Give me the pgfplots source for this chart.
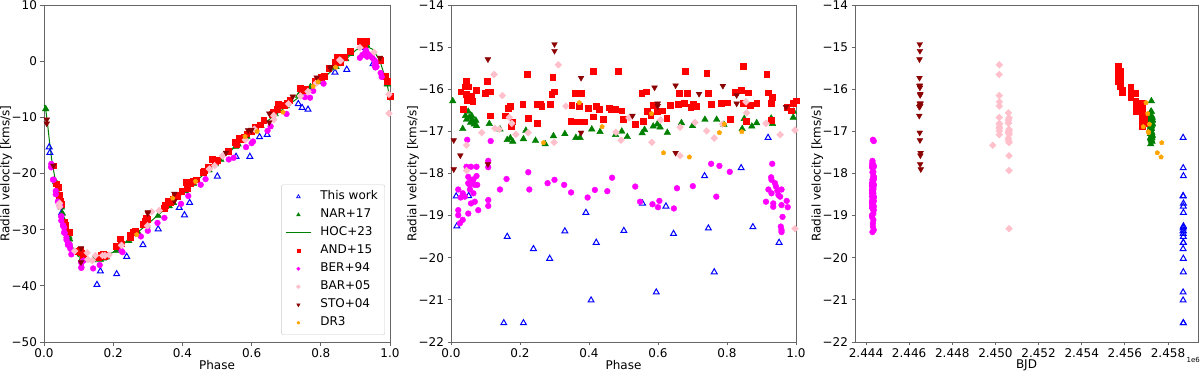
\documentclass[border=0pt]{standalone}
\usepackage{fontspec}
\setmainfont{DejaVu Sans}
\usepackage{pgfplots}
\usepackage{pgfplotstable}
\pgfplotsset{compat=1.18}
\usetikzlibrary{plotmarks}

\definecolor{cBlue}{RGB}{0,0,255}
\definecolor{cGreen}{RGB}{0,128,0}
\definecolor{cRed}{RGB}{255,0,0}
\definecolor{cMag}{RGB}{255,0,255}
\definecolor{cPink}{RGB}{255,192,203}
\definecolor{cBrown}{RGB}{139,0,0}
\definecolor{cOrange}{RGB}{255,165,0}

% This work
\pgfplotstableread{
ph res bjd rv
0.015 -18.54 2458705 -15.3
0.017 -19.25 2458715 -16.3
0.051 -18.53 2458700 -27.0
0.163 -19.50 2458710 -37.4
0.153 -21.55 2458705 -39.8
0.210 -21.55 2458715 -37.9
0.239 -19.79 2458700 -34.8
0.286 -20.02 2458710 -32.7
0.330 -19.37 2458705 -29.9
0.391 -18.93 2458715 -26.1
0.406 -21.01 2458700 -27.4
0.421 -19.64 2458710 -25.2
0.501 -19.36 2458705 -20.5
0.555 -18.71 2458715 -17.0
0.595 -20.82 2458700 -17.0
0.623 -18.78 2458710 -13.5
0.645 -19.43 2458705 -13.1
0.735 -18.06 2458715 -7.6
0.746 -19.30 2458700 -8.3
0.763 -20.34 2458710 -8.6
0.841 -17.87 2458705 -2.0
0.875 -19.27 2458715 -1.5
0.919 -17.15 2458700 2.4
0.951 -19.64 2458710 -0.5
}\tTW

% NAR+17
\pgfplotstableread{
ph res bjd rv
0.005 -16.28 2457230 -8.5
0.034 -16.94 2457200 -21.5
0.042 -16.63 2457180 -23.7
0.045 -16.72 2457250 -24.7
0.050 -16.53 2457210 -26.0
0.053 -16.67 2457270 -27.1
0.057 -16.79 2457190 -28.3
0.060 -16.63 2457240 -29.0
0.063 -16.75 2457160 -29.7
0.067 -16.83 2457220 -30.4
0.072 -16.74 2457280 -31.2
0.074 -16.87 2457200 -31.7
0.111 -16.82 2457250 -35.0
0.142 -16.95 2457170 -35.4
0.163 -17.20 2457230 -35.3
0.172 -17.16 2457190 -35.1
0.179 -17.24 2457260 -34.9
0.210 -17.18 2457210 -33.7
0.217 -16.98 2457150 -33.1
0.245 -17.22 2457240 -32.0
0.273 -17.30 2457200 -30.6
0.297 -17.11 2457270 -29.3
0.330 -17.06 2457180 -27.5
0.362 -17.15 2457220 -25.8
0.374 -17.15 2457250 -25.2
0.408 -16.95 2457170 -23.1
0.432 -17.01 2457230 -21.8
0.477 -17.08 2457260 -19.4
0.495 -17.00 2457190 -18.3
0.511 -17.13 2457210 -17.5
0.554 -17.04 2457240 -15.2
0.561 -16.96 2457160 -14.8
0.586 -16.88 2457220 -13.4
0.598 -16.83 2457280 -12.7
0.606 -16.90 2457200 -12.4
0.627 -17.03 2457250 -11.5
0.668 -16.80 2457180 -9.4
0.700 -16.87 2457230 -8.0
0.736 -16.72 2457270 -6.1
0.770 -16.72 2457190 -4.6
0.791 -16.84 2457210 -3.7
0.844 -16.94 2457240 -1.0
0.850 -16.70 2457170 -0.5
0.872 -16.88 2457220 0.4
0.886 -16.80 2457260 1.3
0.928 -16.69 2457200 2.9
0.932 -16.82 2457250 2.9
0.992 -16.67 2457180 -4.0
0.993 -16.53 2457230 -4.1
}\tNAR

% HOC+23 orbit
\pgfplotstableread{
ph rv
0.000 -7.8
0.005 -8.6
0.010 -11.0
0.016 -14.4
0.022 -17.4
0.029 -19.9
0.036 -22.3
0.044 -24.7
0.052 -27.1
0.060 -29.4
0.072 -31.5
0.084 -33.3
0.098 -34.7
0.115 -35.3
0.134 -35.5
0.153 -35.4
0.171 -34.9
0.200 -34.0
0.240 -32.0
0.300 -29.0
0.400 -23.6
0.500 -18.0
0.600 -12.8
0.700 -8.1
0.800 -3.5
0.835 -1.5
0.874 0.4
0.902 2.0
0.931 2.7
0.950 2.1
0.970 0.2
0.984 -2.5
0.994 -4.8
1.000 -7.0
}\tHOC

% AND+15
\pgfplotstableread{
ph res bjd rv
0.028 -16.06 2456270 -18.6
0.036 -16.48 2456500 -21.8
0.040 -15.94 2455800 -22.4
0.045 -15.80 2455700 -23.8
0.044 -16.12 2456270 -23.8
0.047 -16.27 2456500 -24.9
0.050 -15.94 2456270 -25.4
0.060 -16.16 2456270 -28.6
0.063 -16.29 2456500 -29.2
0.072 -16.03 2455860 -30.5
0.098 -16.10 2456270 -33.8
0.105 -15.80 2455780 -33.7
0.108 -16.06 2455880 -34.1
0.115 -16.06 2456270 -34.4
0.113 -16.63 2456800 -34.9
0.156 -16.63 2456900 -35.0
0.166 -16.45 2456500 -34.5
0.171 -16.40 2456800 -34.3
0.179 -16.77 2456900 -34.5
0.175 -16.87 2456800 -34.7
0.221 -15.64 2455700 -31.6
0.208 -16.36 2456500 -33.0
0.224 -16.69 2456900 -32.5
0.250 -16.35 2456800 -30.9
0.250 -16.81 2456900 -31.3
0.258 -16.35 2456500 -30.5
0.263 -16.41 2456800 -30.3
0.287 -16.36 2456500 -29.0
0.292 -16.11 2456270 -28.5
0.295 -15.72 2455780 -28.0
0.298 -16.06 2455860 -28.2
0.347 -16.75 2456800 -26.2
0.350 -16.37 2456500 -25.7
0.359 -16.10 2456270 -24.9
0.366 -16.77 2456900 -25.2
0.379 -16.10 2456500 -23.8
0.386 -16.77 2456800 -24.1
0.372 -16.40 2456500 -24.5
0.398 -16.45 2456800 -23.2
0.413 -16.65 2456900 -22.6
0.411 -15.58 2455700 -21.6
0.422 -16.41 2456500 -21.8
0.430 -16.47 2456800 -21.4
0.440 -16.71 2456900 -21.1
0.459 -16.44 2456500 -19.8
0.464 -16.47 2456800 -19.5
0.475 -16.47 2456500 -18.9
0.485 -15.58 2455780 -17.4
0.495 -16.51 2456800 -17.8
0.500 -16.71 2456900 -17.7
0.533 -16.83 2456800 -16.1
0.553 -16.10 2456270 -14.4
0.557 -16.75 2456900 -14.8
0.565 -16.06 2455860 -13.7
0.569 -16.53 2456500 -13.9
0.579 -16.63 2456800 -13.5
0.586 -16.37 2456500 -12.9
0.598 -16.53 2456800 -12.4
0.611 -16.51 2456500 -11.8
0.625 -16.69 2456900 -11.3
0.635 -16.37 2456800 -10.5
0.659 -16.35 2456500 -9.4
0.662 -16.10 2456270 -9.0
0.678 -15.58 2455700 -7.7
0.675 -16.33 2456800 -8.6
0.685 -16.10 2456500 -7.9
0.695 -16.43 2456800 -7.8
0.702 -16.36 2456500 -7.4
0.710 -16.40 2456800 -7.0
0.741 -15.62 2455780 -4.8
0.746 -16.10 2456270 -5.1
0.755 -16.36 2456500 -4.9
0.784 -16.33 2456800 -3.5
0.801 -16.32 2456500 -2.8
0.809 -16.71 2456900 -2.7
0.823 -16.07 2455860 -1.3
0.847 -15.45 2455700 0.65
0.842 -16.03 2456270 -0.2
0.847 -16.33 2456800 -0.2
0.855 -16.75 2456900 -0.25
0.862 -16.08 2455880 0.7
0.867 -16.37 2456500 0.7
0.886 -16.33 2456800 1.8
0.915 -15.65 2455780 3.6
0.920 -16.08 2456270 3.4
0.927 -16.33 2456500 3.3
0.927 -16.73 2456900 2.9
0.932 -16.19 2456270 3.5
0.973 -16.43 2456800 0.2
0.987 -16.51 2456500 -2.7
0.992 -16.33 2456800 -3.6
1.000 -16.27 2456500 -6.3
}\tAND

% BER+94
\pgfplotstableread{
ph res bjd rv
0.021 -18.38 2444300 -18.3
0.021 -18.87 2444340 -18.8
0.021 -18.99 2444280 -18.9
0.026 -19.18 2444320 -21.1
0.028 -18.57 2444360 -21.1
0.034 -18.47 2444300 -23.1
0.034 -19.10 2444340 -23.7
0.040 -18.55 2444280 -25.0
0.045 -17.84 2444320 -25.8
0.050 -18.08 2444360 -27.6
0.050 -18.23 2444300 -27.7
0.050 -18.95 2444340 -28.4
0.055 -18.27 2444280 -29.2
0.055 -18.38 2444320 -29.3
0.058 -17.84 2444360 -29.6
0.058 -18.71 2444300 -30.5
0.060 -18.17 2444340 -30.6
0.065 -18.47 2444280 -31.8
0.065 -18.14 2444320 -31.4
0.069 -18.27 2444360 -32.3
0.074 -17.84 2444300 -32.6
0.074 -18.06 2444340 -32.9
0.069 -18.67 2444280 -32.7
0.076 -18.27 2444320 -33.4
0.079 -18.87 2444360 -34.4
0.108 -18.63 2444300 -36.7
0.108 -18.77 2444340 -36.8
0.108 -17.85 2444280 -35.9
0.142 -18.38 2444320 -36.9
0.161 -18.13 2444360 -36.3
0.224 -17.97 2444300 -33.8
0.227 -18.38 2444340 -34.0
0.280 -18.23 2444280 -31.2
0.300 -18.15 2444320 -30.2
0.328 -18.27 2444360 -28.8
0.348 -18.45 2444300 -27.9
0.396 -18.57 2444340 -25.4
0.417 -18.39 2444280 -24.0
0.453 -18.42 2444320 -22.0
0.467 -18.10 2444360 -21.0
0.534 -18.31 2444300 -17.5
0.548 -18.67 2444340 -17.2
0.584 -18.73 2444280 -15.3
0.600 -18.80 2444320 -14.6
0.604 -18.65 2444360 -14.3
0.646 -18.83 2444300 -12.4
0.655 -18.35 2444340 -11.6
0.701 -18.30 2444280 -9.4
0.754 -17.77 2444320 -6.4
0.778 -17.82 2444360 -5.3
0.769 -18.55 2444300 -6.5
0.808 -17.96 2444340 -4.0
0.913 -18.67 2444280 0.6
0.920 -18.38 2444320 1.1
0.928 -18.09 2444360 1.5
0.929 -18.15 2444300 1.5
0.929 -18.47 2444340 1.1
0.931 -17.77 2444280 1.9
0.934 -18.71 2444320 0.9
0.934 -18.79 2444360 0.8
0.939 -18.23 2444300 1.2
0.942 -18.31 2444340 1.0
0.946 -18.41 2444280 0.8
0.949 -18.51 2444320 0.6
0.954 -18.55 2444360 0.2
0.958 -18.38 2444300 -0.1
0.958 -18.75 2444340 -0.5
0.961 -19.03 2444280 -1.0
0.956 -19.26 2444320 -0.8
0.958 -19.34 2444360 -1.1
0.958 -19.39 2444300 -1.1
0.973 -18.65 2444340 -2.1
0.976 -18.80 2444280 -2.8
0.047 -17.20 2444320 -25.8
0.115 -17.23 2444360 -35.5
0.108 -17.70 2444300 -35.8
}\tBER

% BAR+05
\pgfplotstableread{
ph res bjd rv
0.045 -17.33 2449874 -25.3
0.045 -17.93 2450630 -25.9
0.089 -17.03 2450630 -33.8
0.125 -15.65 2450180 -34.1
0.127 -16.93 2450180 -35.3
0.140 -16.95 2450630 -35.5
0.149 -16.15 2450180 -34.6
0.169 -16.67 2450180 -34.6
0.176 -16.81 2450180 -34.6
0.188 -17.07 2450630 -34.5
0.224 -17.03 2450600 -32.8
0.299 -17.26 2450630 -29.3
0.311 -15.42 2450180 -26.8
0.333 -16.40 2450180 -26.6
0.478 -17.02 2450600 -19.2
0.493 -17.21 2450600 -18.6
0.516 -16.68 2450630 -16.9
0.582 -17.26 2450630 -14.0
0.608 -16.73 2450600 -12.1
0.664 -17.58 2450630 -10.4
0.664 -16.90 2450180 -9.7
0.707 -16.79 2450600 -7.6
0.741 -16.99 2450180 -6.2
0.763 -17.16 2450600 -5.4
0.787 -16.83 2450180 -3.9
0.857 -16.56 2450600 0.1
0.855 -16.30 2450180 0.2
0.913 -16.81 2450600 2.4
0.954 -17.08 2450180 1.6
0.997 -16.97 2450630 -5.9
0.997 -19.31 2450630 -9.3
}\tBAR

% STO+04
\pgfplotstableread{
ph res bjd rv
0.008 -17.21 2446500 -10.4
0.008 -17.90 2446540 -11.1
0.027 -17.57 2446520 -18.6
0.107 -15.29 2446480 -33.3
0.107 -17.78 2446510 -35.8
0.300 -14.93 2446490 -26.9
0.300 -15.09 2446500 -27.1
0.377 -15.73 2446480 -23.6
0.377 -17.03 2446490 -24.9
0.526 -16.63 2446470 -16.3
0.590 -15.96 2446500 -12.3
0.599 -16.34 2446530 -12.2
0.599 -16.40 2446510 -12.3
0.651 -15.91 2446490 -9.3
0.651 -17.51 2446530 -10.9
0.719 -16.11 2446520 -6.3
0.788 -15.92 2446480 -2.9
0.828 -16.14 2446510 -1.1
0.828 -16.34 2446490 -1.3
0.971 -16.42 2446470 0.6
}\tSTO

% DR3
\pgfplotstableread{
ph res bjd rv
0.372 -16.32 2456980 -24.4
0.438 -16.89 2456855 -21.4
0.268 -17.27 2457710 -30.9
0.581 -16.58 2457060 -13.4
0.616 -17.51 2457505 -12.5
0.691 -17.61 2457680 -9.1
0.778 -17.03 2457100 -4.5
0.792 -16.83 2457135 -3.7
0.843 -17.01 2457090 -1.1
}\tDR

\pgfplotsset{
  base/.style={
    scale only axis, height=337pt,
    axis line style={black!60, line width=0.8pt},
    every tick/.style={black!60, line width=0.8pt},
    tick align=outside, major tick length=3.5pt, tick pos=left,
    ticklabel style={font=\fontsize{12}{14}\selectfont},
    label style={font=\fontsize{12}{14}\selectfont},
    xlabel style={at={(axis description cs:0.5,-0.068)}, anchor=center},
    ylabel style={at={(axis description cs:-0.11,0.5)}, anchor=center},
    scaled ticks=false, clip=true,
    ylabel={Radial velocity [kms/s]},
  },
  sTW/.style={only marks, mark=triangle, mark size=3.4pt, mark options={draw=cBlue, fill=white, line width=1pt}},
  sNAR/.style={only marks, mark=triangle*, mark size=3.8pt, mark options={draw=cGreen, fill=cGreen}},
  sAND/.style={only marks, mark=square*, mark size=2.9pt, mark options={draw=cRed, fill=cRed}},
  sBER/.style={only marks, mark=*, mark size=2.9pt, mark options={draw=cMag, fill=cMag}},
  sBAR/.style={only marks, mark=square*, mark size=2.4pt, mark options={draw=cPink, fill=cPink, rotate=45}},
  sSTO/.style={only marks, mark=triangle*, mark size=3.3pt, mark options={draw=cBrown, fill=cBrown, rotate=180}},
  sDR/.style={only marks, mark=pentagon*, mark size=2.4pt, mark options={draw=cOrange, fill=cOrange}},
}

\begin{document}
\begin{tikzpicture}
\useasboundingbox (0,0) rectangle (1200pt,372pt);

% ---------- left panel ----------
\begin{axis}[base, at={(44pt,30pt)}, anchor=south west, width=346pt,
  xmin=0, xmax=1, ymin=-50, ymax=10,
  xtick={0,0.2,0.4,0.6,0.8,1}, xticklabels={0.0,0.2,0.4,0.6,0.8,1.0},
  ytick={-50,-40,-30,-20,-10,0,10}, yticklabels={−50,−40,−30,−20,−10,0,10},
  xlabel={Phase},
  legend image code/.code={\draw[mark repeat=2,mark phase=2,#1] plot coordinates {(0pt,0pt)(12.5pt,0pt)(25pt,0pt)};},
  legend cell align=left,
  legend style={at={(0.9855,0.0208)}, anchor=south east, draw=black!20, rounded corners=2pt,
    fill=white, font=\fontsize{12}{14}\selectfont, inner xsep=4pt, inner ysep=3pt,
    nodes={text height=9pt, text depth=3pt, inner ysep=3pt, inner xsep=3pt, anchor=west},
    /tikz/every odd column/.append style={column sep=6pt}},
]
\addplot[sTW, forget plot] table[x=ph, y=rv] {\tTW};
\addplot[sNAR, forget plot] table[x=ph, y=rv] {\tNAR};
\addplot[cGreen, line width=1pt, no marks, forget plot] table[x=ph, y=rv] {\tHOC};
\addplot[sAND, forget plot] table[x=ph, y=rv] {\tAND};
\addplot[sBER, forget plot] table[x=ph, y=rv] {\tBER};
\addplot[sBAR, forget plot] table[x=ph, y=rv] {\tBAR};
\addplot[sSTO, forget plot] table[x=ph, y=rv] {\tSTO};
\addplot[sDR, forget plot] table[x=ph, y=rv] {\tDR};
\addlegendimage{only marks, mark=triangle, mark size=2.1pt, mark options={draw=cBlue, fill=white, line width=0.7pt}}
\addlegendentry{This work}
\addlegendimage{only marks, mark=triangle*, mark size=2.1pt, mark options={draw=cGreen, fill=cGreen}}
\addlegendentry{NAR+17}
\addlegendimage{cGreen, line width=1pt}
\addlegendentry{HOC+23}
\addlegendimage{only marks, mark=square*, mark size=1.6pt, mark options={draw=cRed, fill=cRed}}
\addlegendentry{AND+15}
\addlegendimage{only marks, mark=*, mark size=1.7pt, mark options={draw=cMag, fill=cMag}}
\addlegendentry{BER+94}
\addlegendimage{only marks, mark=square*, mark size=1.4pt, mark options={draw=cPink, fill=cPink, rotate=45}}
\addlegendentry{BAR+05}
\addlegendimage{only marks, mark=triangle*, mark size=2pt, mark options={draw=cBrown, fill=cBrown, rotate=180}}
\addlegendentry{STO+04}
\addlegendimage{only marks, mark=pentagon*, mark size=1.5pt, mark options={draw=cOrange, fill=cOrange}}
\addlegendentry{DR3}
\end{axis}

% ---------- middle panel ----------
\begin{axis}[base, at={(451pt,30pt)}, anchor=south west, width=345pt,
  xmin=0, xmax=1, ymin=-22, ymax=-14,
  xtick={0,0.2,0.4,0.6,0.8,1}, xticklabels={0.0,0.2,0.4,0.6,0.8,1.0},
  ytick={-22,-21,-20,-19,-18,-17,-16,-15,-14}, yticklabels={−22,−21,−20,−19,−18,−17,−16,−15,−14},
  xlabel={Phase},
]
\addplot[sTW] table[x=ph, y=res] {\tTW};
\addplot[sNAR] table[x=ph, y=res] {\tNAR};
\addplot[sAND] table[x=ph, y=res] {\tAND};
\addplot[sBER] table[x=ph, y=res] {\tBER};
\addplot[sBAR] table[x=ph, y=res] {\tBAR};
\addplot[sSTO] table[x=ph, y=res] {\tSTO};
\addplot[sDR] table[x=ph, y=res] {\tDR};
\end{axis}

% ---------- right panel ----------
\begin{axis}[base, name=rpanel, at={(855pt,30pt)}, anchor=south west, width=343pt,
  xmin=2443490, xmax=2459391, ymin=-22, ymax=-14,
  xtick={2444000,2446000,2448000,2450000,2452000,2454000,2456000,2458000},
  xticklabels={2.444,2.446,2.448,2.450,2.452,2.454,2.456,2.458},
  ytick={-22,-21,-20,-19,-18,-17,-16,-15,-14}, yticklabels={−22,−21,−20,−19,−18,−17,−16,−15,−14},
  xlabel={BJD},
]
\addplot[sTW] table[x=bjd, y=res] {\tTW};
\addplot[sNAR] table[x=bjd, y=res] {\tNAR};
\addplot[sAND] table[x=bjd, y=res] {\tAND};
\addplot[sBER] table[x=bjd, y=res] {\tBER};
\addplot[sBAR] table[x=bjd, y=res] {\tBAR};
\addplot[sSTO] table[x=bjd, y=res] {\tSTO};
\addplot[sDR] table[x=bjd, y=res] {\tDR};
\end{axis}
\node[anchor=north east, font=\fontsize{7}{8}\selectfont, inner sep=0pt] at (1200pt,15pt) {1e6};
\end{tikzpicture}
\end{document}
